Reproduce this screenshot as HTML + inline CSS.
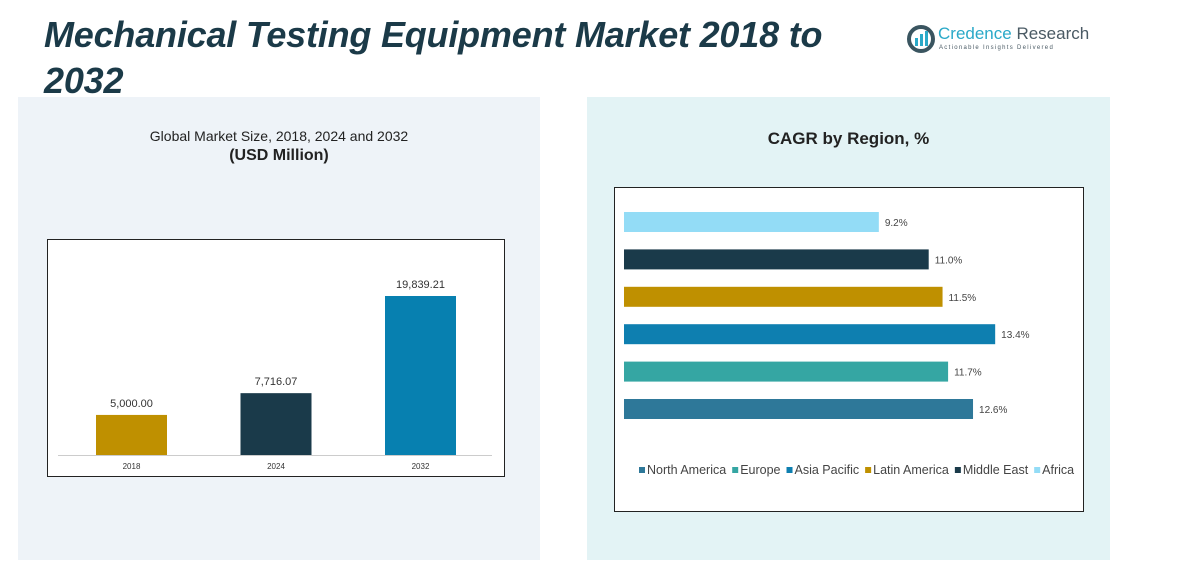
<!DOCTYPE html>
<html><head><meta charset="utf-8"><style>
body{margin:0;width:1198px;height:587px;background:#fff;font-family:"Liberation Sans",sans-serif;position:relative;overflow:hidden}
.abs{position:absolute}
</style></head><body>
<div class="abs" style="left:18px;top:97px;width:522px;height:463px;background:#eef3f8"></div>
<div class="abs" style="left:587px;top:97px;width:523px;height:463px;background:#e3f3f5"></div>
<div class="abs" style="left:44px;top:12px;width:850px;font-size:36px;font-weight:bold;font-style:italic;color:#1b3a48;line-height:46px;letter-spacing:-0.2px">Mechanical Testing Equipment Market 2018 to 2032</div>
<div class="abs" style="left:906px;top:24px;">
<svg width="30" height="30"><circle cx="15" cy="15" r="12" fill="none" stroke="#3a5560" stroke-width="4"/><rect x="9" y="14" width="3" height="8" fill="#2aa9c8"/><rect x="14" y="10" width="3" height="12" fill="#2aa9c8"/><rect x="19" y="7" width="3" height="15" fill="#2aa9c8"/></svg>
<span class="abs" style="left:32px;top:0;font-size:17px;white-space:nowrap;color:#2aa9c8">Credence <span style="color:#4a5a64">Research</span></span>
<span class="abs" style="left:33px;top:21px;font-size:6px;letter-spacing:1.3px;white-space:nowrap;color:#4a5a64">Actionable Insights Delivered</span>
</div>
<div class="abs" style="left:18px;top:128px;width:522px;text-align:center;font-size:14px;color:#222">Global Market Size, 2018, 2024 and 2032<br><b style="font-size:16px;line-height:24px">(USD Million)</b></div>
<div class="abs" style="left:587px;top:129px;width:523px;text-align:center;font-size:17px;font-weight:bold;color:#222">CAGR by Region, %</div>
<svg class="abs" style="left:0;top:0" width="1198" height="587" id="charts">
<rect x="47.5" y="239.5" width="457" height="237" fill="#fff" stroke="#222"/>
<line x1="58" y1="455.5" x2="492" y2="455.5" stroke="#ccc"/>
<rect x="614.5" y="187.5" width="469" height="324" fill="#fff" stroke="#222"/>
<g id="bars1"></g><g id="bars2"></g><g id="legend"></g>
</svg>
<script>
const years=["2018","2024","2032"];
const sizes=[5000.00,7716.07,19839.21];
const sizeColors=["#bf9000","#1a3a4a","#0780b0"];
const regions=["Africa","Middle East","Latin America","Asia Pacific","Europe","North America"];
const cagr=[9.2,11.0,11.5,13.4,11.7,12.6];
const regionColors=["#93dcf6","#1a3a4a","#bf9000","#0e7fb0","#35a6a3","#2e7899"];
const legendOrder=["North America","Europe","Asia Pacific","Latin America","Middle East","Africa"];
const NS="http://www.w3.org/2000/svg";
function mk(t,a,p){const e=document.createElementNS(NS,t);for(const k in a)e.setAttribute(k,a[k]);p.appendChild(e);return e;}
const y1=v=>455-v*159/19839.21;
const x1=i=>96+i*144.5;
const g1=document.getElementById('bars1');
years.forEach((yr,i)=>{
 const r=mk('rect',{x:x1(i),y:y1(sizes[i]),width:71,height:455-y1(sizes[i]),fill:sizeColors[i]},g1);
 
 
 const t=mk('text',{x:x1(i)+35.5,y:y1(sizes[i])-8,'text-anchor':'middle','font-size':11,fill:'#333'},g1);
 t.textContent=sizes[i].toLocaleString('en-US',{minimumFractionDigits:2});
 
 
 const l=mk('text',{x:x1(i)+35.5,y:469,'text-anchor':'middle','font-size':8,fill:'#333'},g1);
 l.textContent=yr;
 
 
});
const x2=v=>624+v*27.7;
const yc=i=>222+i*37.4;
const g2=document.getElementById('bars2');
regions.forEach((r,i)=>{
 const b=mk('rect',{x:624,y:yc(i)-10,width:x2(cagr[i])-624,height:20,fill:regionColors[i]},g2);
 
 
 const t=mk('text',{x:x2(cagr[i])+6,y:yc(i)+4,'font-size':10,fill:'#444'},g2);
 t.textContent=cagr[i].toFixed(1)+'%';
 
 
});
const g3=document.getElementById('legend');
let lx=639;
legendOrder.forEach(n=>{
 const c=regionColors[regions.indexOf(n)];
 const s=mk('rect',{x:lx,y:467,width:6,height:6,fill:c},g3);
 
 
 const t=mk('text',{x:lx+8,y:474,'font-size':12.5,fill:'#444'},g3);
 t.textContent=n;
 
 
 lx+=8+t.getComputedTextLength()+6;
});
</script>
</body></html>
